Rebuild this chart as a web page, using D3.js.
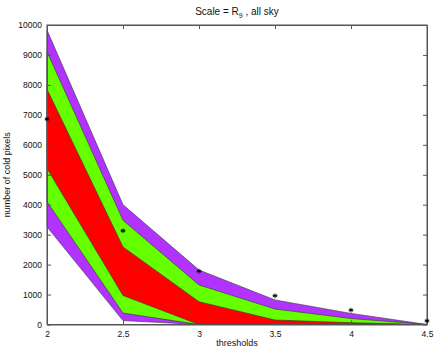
<!DOCTYPE html>
<html><head><meta charset="utf-8">
<script src="https://cdn.jsdelivr.net/npm/d3@7"></script>
<style>body{margin:0;background:#fff}svg{display:block;font-family:"Liberation Sans",Arial,sans-serif}</style>
</head><body><svg id="c" width="436" height="349"></svg>
<script>
const thresholds = [2, 2.5, 3, 3.5, 4, 4.5];
const purpleHigh = [9830, 4000, 1820, 820, 370, 0];
const greenHigh  = [9110, 3480, 1320, 517, 200, 0];
const redHigh    = [7856, 2590, 760, 150, 60, 0];
const redLow     = [5210, 970, 0, 0, 0, 0];
const greenLow   = [4100, 380, 0, 0, 0, 0];
const purpleLow  = [3260, 130, 0, 0, 0, 0];
const observed   = [6860, 3130, 1780, 960, 480, 120];
const xTicks = [2, 2.5, 3, 3.5, 4, 4.5];
const yTicks = [0,1000,2000,3000,4000,5000,6000,7000,8000,9000,10000];

const svg = d3.select("#c");
const L=47, R=427, T=25, B=324.5;
const x = d3.scaleLinear().domain([2,4.5]).range([L,R]);
const y = d3.scaleLinear().domain([0,10000]).range([B,T]);

function band(hi, lo, color){
  const area = d3.area().x((d,i)=>x(thresholds[i])).y0((d,i)=>y(lo[i])).y1((d,i)=>y(hi[i]));
  svg.append("path").datum(hi).attr("d", area).attr("fill", color)
    .attr("stroke","#333").attr("stroke-width",0.6);
}
band(purpleHigh, purpleLow, "#b233ff");
band(greenHigh, greenLow, "#66ff00");
band(redHigh, redLow, "#ff0000");

const fc="#555";
svg.append("rect").attr("x",L).attr("y",T).attr("width",R-L).attr("height",B-T)
  .attr("fill","none").attr("stroke",fc).attr("stroke-width",1);

const gx = svg.append("g").attr("transform",`translate(0,${B})`)
  .call(d3.axisBottom(x).tickValues(xTicks).tickFormat(d3.format("")).tickSizeInner(-4).tickSizeOuter(0).tickPadding(6));
const gxt = svg.append("g").attr("transform",`translate(0,${T})`)
  .call(d3.axisTop(x).tickValues(xTicks).tickFormat("").tickSizeInner(-4).tickSizeOuter(0));
const gy = svg.append("g").attr("transform",`translate(${L},0)`)
  .call(d3.axisLeft(y).tickValues(yTicks).tickFormat(d3.format("d")).tickSizeInner(-4).tickSizeOuter(0).tickPadding(5));
const gyr = svg.append("g").attr("transform",`translate(${R},0)`)
  .call(d3.axisRight(y).tickValues(yTicks).tickFormat("").tickSizeInner(-4).tickSizeOuter(0));
[gx,gxt,gy,gyr].forEach(g=>{
  g.select(".domain").attr("stroke",fc);
  g.selectAll(".tick line").attr("stroke",fc);
  g.selectAll("text").attr("font-size","8.5px").attr("fill","#111").attr("font-family","'Liberation Sans',Arial,sans-serif");
});

// asterisk markers
const r = 2.4;
const arms = [0, 60, 120].map(a => a*Math.PI/180);
const mk = svg.append("g").selectAll("g").data(observed).join("g")
  .attr("transform",(d,i)=>`translate(${x(thresholds[i])},${y(d)})`);
arms.forEach(a=>{
  mk.append("line").attr("x1",-r*Math.sin(a)).attr("y1",-r*Math.cos(a))
    .attr("x2",r*Math.sin(a)).attr("y2",r*Math.cos(a))
    .attr("stroke","#000").attr("stroke-width",0.9);
});
mk.append("line").attr("x1",-r).attr("x2",r).attr("y1",0).attr("y2",0).attr("stroke","#000").attr("stroke-width",0.9);

svg.append("text").attr("x",(L+R)/2).attr("y",346).attr("text-anchor","middle")
  .attr("font-size","9px").attr("fill","#111").text("thresholds");
svg.append("text").attr("transform",`translate(10,${(T+B)/2}) rotate(-90)`).attr("text-anchor","middle")
  .attr("font-size","9px").attr("fill","#111").text("number of cold pixels");
const t = svg.append("text").attr("x",(L+R)/2).attr("y",15).attr("text-anchor","middle").attr("font-size","10px").attr("fill","#111");
t.append("tspan").text("Scale = R");
t.append("tspan").attr("font-size","7px").attr("dy",3).text("9");
t.append("tspan").attr("dy",-3).text(" , all sky");
</script></body></html>
